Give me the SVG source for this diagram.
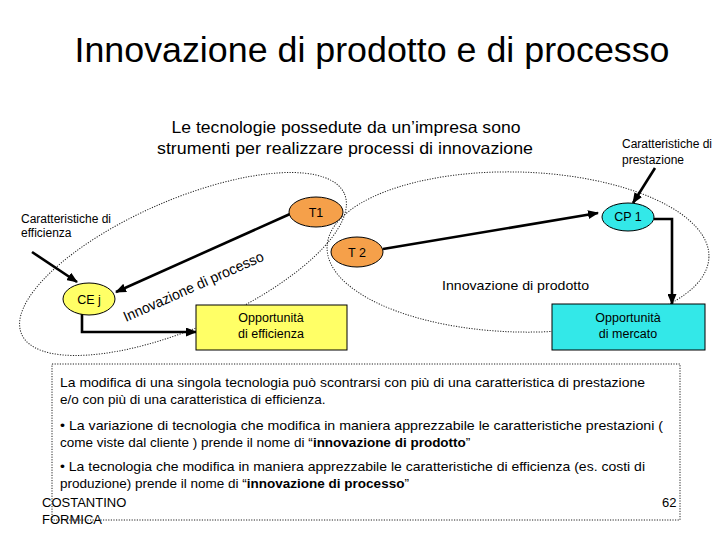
<svg xmlns="http://www.w3.org/2000/svg" width="720" height="540" viewBox="0 0 720 540">
<defs>
<style>
text{font-family:"Liberation Sans",Arial,sans-serif;fill:#000}
.sm{font-size:12px}
.nd{font-size:12.5px;text-anchor:middle}
.dot{fill:none;stroke:#222;stroke-width:1;stroke-dasharray:1.2 1.4}
.ar{fill:none;stroke:#000;stroke-width:2.6;marker-end:url(#ah)}
.or{fill:#F5A04A;stroke:#000;stroke-width:1}
.ye{fill:#FFFF66;stroke:#000;stroke-width:1}
.cy{fill:#33E8E8;stroke:#000;stroke-width:1}
.bt{font-size:13.5px}
</style>
<marker id="ah" markerUnits="userSpaceOnUse" markerWidth="11" markerHeight="9" refX="10" refY="4.5" orient="auto">
<path d="M0,0 L11,4.5 L0,9 z" fill="#000"/>
</marker>
</defs>
<rect width="720" height="540" fill="#fff"/>

<g id="title">
<text x="372" y="62" font-size="35" text-anchor="middle" textLength="595" lengthAdjust="spacingAndGlyphs">Innovazione di prodotto e di processo</text>
</g>
<g id="subtitle">
<text x="346" y="133" font-size="16.5" text-anchor="middle" textLength="349" lengthAdjust="spacingAndGlyphs">Le tecnologie possedute da un’impresa sono</text>
<text x="345" y="154" font-size="16.5" text-anchor="middle" textLength="376" lengthAdjust="spacingAndGlyphs">strumenti per realizzare processi di innovazione</text>
</g>

<g id="regions">
<ellipse class="dot" cx="183" cy="264" rx="176" ry="64" transform="rotate(-23.5 183 264)"/>
<ellipse class="dot" cx="518" cy="252" rx="191" ry="80" transform="rotate(1.5 518 252)"/>
<text x="0" y="0" font-size="14.5" transform="translate(126 322) rotate(-24)" textLength="152" lengthAdjust="spacingAndGlyphs">Innovazione di processo</text>
<text x="442" y="290" font-size="13.5" textLength="147" lengthAdjust="spacingAndGlyphs">Innovazione di prodotto</text>
</g>

<g id="connectors">
<line class="ar" x1="290" y1="214" x2="116" y2="292"/>
<line class="ar" x1="32" y1="252" x2="77" y2="282"/>
<polyline class="ar" points="82,314 82,332 196,332"/>
<line class="ar" x1="383" y1="249" x2="598" y2="213"/>
<polyline class="ar" points="654,219 672,219 672,304"/>
<line class="ar" x1="655" y1="168" x2="633" y2="203"/>
</g>

<g id="lbl-eff">
<text class="sm" x="21" y="223">Caratteristiche di</text>
<text class="sm" x="21" y="237">efficienza</text>
</g>
<g id="lbl-prest">
<text class="sm" x="622" y="148">Caratteristiche di</text>
<text class="sm" x="622" y="164">prestazione</text>
</g>

<g id="T1">
<ellipse class="or" cx="316" cy="212" rx="27" ry="15"/>
<text class="nd" x="316" y="217">T1</text>
</g>
<g id="T2">
<ellipse class="or" cx="357" cy="252" rx="26" ry="15"/>
<text class="nd" x="357" y="257">T 2</text>
</g>
<g id="CP1">
<ellipse class="cy" cx="628" cy="217" rx="26" ry="14"/>
<text class="nd" x="628" y="221">CP 1</text>
</g>
<g id="CEj">
<ellipse class="ye" cx="89" cy="299" rx="26" ry="16"/>
<text class="nd" x="89" y="304">CE j</text>
</g>
<g id="opp-eff">
<rect class="ye" x="196" y="305" width="151" height="45"/>
<text class="nd" x="271" y="322">Opportunità</text>
<text class="nd" x="271" y="338">di efficienza</text>
</g>
<g id="opp-merc">
<rect class="cy" x="552" y="304" width="153" height="46"/>
<text class="nd" x="628" y="322">Opportunità</text>
<text class="nd" x="628" y="338">di mercato</text>
</g>

<g id="notes">
<rect class="dot" x="52" y="364" width="628" height="156"/>
<text class="bt" x="60" y="387" textLength="585" lengthAdjust="spacingAndGlyphs">La modifica di una singola tecnologia può scontrarsi con più di una caratteristica di prestazione</text>
<text class="bt" x="60" y="404">e/o con più di una caratteristica di efficienza.</text>
<text class="bt" x="60" y="430" textLength="603" lengthAdjust="spacingAndGlyphs">• La variazione di tecnologia che modifica in maniera apprezzabile le caratteristiche  prestazioni (</text>
<text class="bt" x="60" y="447">come viste dal cliente ) prende il nome di “<tspan font-weight="bold">innovazione di prodotto</tspan>”</text>
<text class="bt" x="60" y="471" textLength="585" lengthAdjust="spacingAndGlyphs">• La tecnologia che modifica in maniera apprezzabile le caratteristiche di efficienza (es. costi di</text>
<text class="bt" x="60" y="488">produzione) prende il nome di “<tspan font-weight="bold">innovazione di processo</tspan>”</text>
</g>
<g id="footer">
<text x="42" y="507" font-size="13">COSTANTINO</text>
<text x="42" y="524" font-size="13">FORMICA</text>
<text x="662" y="507" font-size="13">62</text>
</g>
</svg>
